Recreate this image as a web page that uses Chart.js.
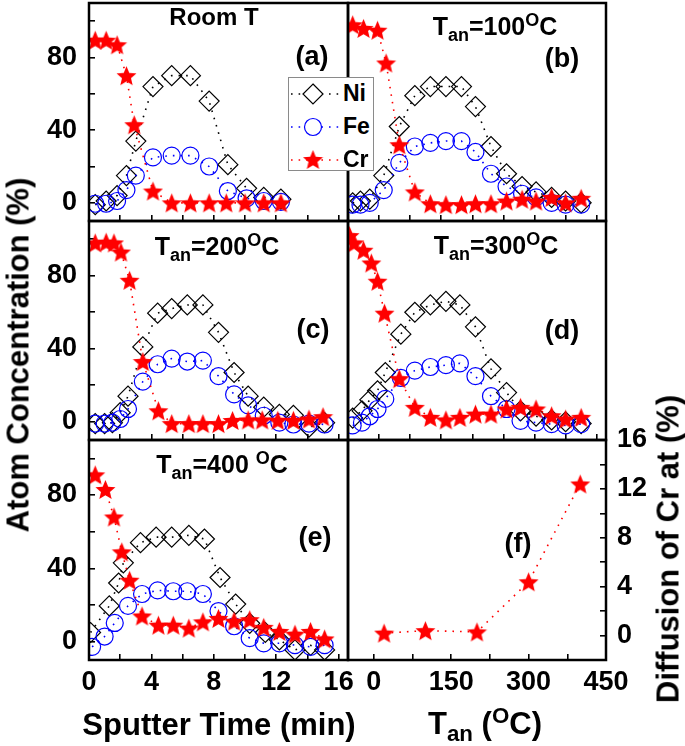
<!DOCTYPE html>
<html>
<head>
<meta charset="utf-8">
<script src="https://cdn.jsdelivr.net/npm/chart.js@4.4.1/dist/chart.umd.min.js"></script>
<style>
  html, body { margin: 0; padding: 0; background: #fff; }
  #page { position: relative; width: 685px; height: 746px; overflow: hidden;
          font-family: "Liberation Sans", Arial, sans-serif; font-weight: bold; color: #000; }
  #page canvas { position: absolute; left: 0; top: 0; }
  .lbl { position: absolute; transform: translate(-50%, -50%); white-space: nowrap; line-height: 1; }
  .lbl sub, .lbl sup { font-size: 0.72em; position: relative; vertical-align: baseline; }
  .lbl sub { top: 0.32em; }
  .lbl sup { top: -0.5em; }
  .rot { transform: translate(-50%, -50%) rotate(-90deg); }
  #legend { position: absolute; left: 288px; top: 77px; width: 84px; height: 92px;
            background: #fff; border: 1px solid #8a8a8a; }
  #legend .row { position: absolute; left: 0; height: 30px; }
  #legend canvas { position: absolute; left: 0; top: 0; }
  #legend span { position: absolute; left: 54px; top: 3px; font-size: 23px; line-height: 1; }
</style>
</head>
<body>
<div id="page"></div>
<script>
// ---------- data ----------
// (a) room temperature
const timeA   = [0.4, 1.1, 1.8, 2.4, 3.0, 4.1, 5.3, 6.5, 7.7, 8.9, 10.1, 11.2, 12.3];
const niA     = [-1, 1, 4, 15, 34, 64, 70, 70, 56, 21, 8, 3, 2];
const feA     = [-0.5, -0.5, 1, 7, 15, 25, 26, 26, 20, 6.5, 2.5, 1, 0.5];
const crTimeA = [0.4, 1.1, 1.8, 2.4, 2.9, 4.1, 5.3, 6.5, 7.7, 8.8, 10.0, 11.2, 12.3];
const crA     = [89.5, 89.5, 87, 70, 43, 6.5, 0, 0, 0, 0, 0, 0, 0];

// (b) 100 C
const timeB   = [0.3, 0.8, 1.4, 2.3, 3.3, 4.3, 5.3, 6.3, 7.3, 8.2, 9.2, 10.2, 11.2, 12.1, 13.1, 14.0, 15.0];
const niB     = [0, 1, 2, 15, 42, 59, 64, 64, 64, 53, 31, 16, 9, 6, 3, 1, 0];
const feB     = [-1, -1, 0, 7, 22, 31, 33, 34, 34, 28, 16, 9, 5, 3, 0, -1, -1];
const crTimeB = [0.3, 1.0, 1.9, 2.45, 3.3, 4.3, 5.3, 6.3, 7.3, 8.2, 9.2, 10.2, 11.2, 12.1, 13.1, 14.0, 15.0];
const crB     = [98, 96, 95, 77, 32, 6, -0.5, -1, -1, -0.5, -0.5, 1, 2, 1, 3, 0, 2.5];

// (c) 200 C
const timeC   = [0.4, 1.0, 1.5, 2.0, 2.5, 3.45, 4.4, 5.3, 6.3, 7.3, 8.3, 9.3, 10.2, 11.2, 12.2, 13.1, 14.1, 15.1];
const niC     = [-1, -1, -0.5, 5, 14, 41, 59.5, 62, 64, 64, 49, 27, 14, 8, 4, 3.5, -3, -0.5];
const feC     = [-1, -1, -0.5, 1.5, 7, 22, 31.5, 34.6, 33, 33.5, 25, 15, 9, 3.3, -0.5, -1.5, -1, -1.5];
const crTimeC = [0.4, 1.1, 1.6, 2.05, 2.6, 3.45, 4.45, 5.3, 6.4, 7.3, 8.3, 9.2, 10.2, 11.1, 12.1, 13.1, 14.1, 15.0];
const crC     = [98, 98.4, 98, 93, 77.5, 33, 6, -1, -1, -1, -1, 0.7, 1, 1, 0.8, 0.8, 1.5, 2.8];

// (d) 300 C
const timeD   = [0.3, 0.9, 1.4, 1.9, 2.4, 3.4, 4.3, 5.3, 6.3, 7.2, 8.2, 9.2, 10.2, 11.1, 12.1, 13.1, 14.0, 15.0];
const niD     = [2, 6, 12, 17, 27, 48, 60, 64, 66, 64, 52, 29, 16, 6, 3, 1, 0, -1];
const feD     = [-2, -0.5, 3, 7, 12.5, 24, 28, 30, 31, 32, 25, 14, 7, 0.5, -0.5, -1.3, -2, -1.3];
const crTimeD = [0.1, 0.4, 1.0, 1.5, 1.9, 2.35, 3.3, 4.3, 5.3, 6.3, 7.2, 8.2, 9.2, 10.2, 11.1, 12.1, 13.1, 14.0, 15.0];
const crD     = [102, 98, 94, 87, 77, 59.5, 23.6, 7.9, 2.4, 1, 2.4, 4.2, 4.2, 7, 7.9, 7, 3.3, 1.5, 2.4];

// (e) 400 C
const niTimeE = [0.1, 1.3, 1.9, 2.2, 3.3, 4.3, 5.3, 6.4, 7.4, 8.4, 9.4, 10.3, 11.3, 12.2, 13.2, 14.2, 15.1];
const niE     = [5, 19.5, 32, 43, 54, 57, 57, 58, 56, 35, 20.5, 10, 5, 1, -4.5, -2, -4.5];
const feTimeE = [0.2, 1.0, 1.65, 2.5, 3.4, 4.4, 5.4, 6.3, 7.3, 8.3, 9.3, 10.3, 11.2, 12.2, 13.2, 14.2, 15.1];
const feE     = [-2.8, 2.8, 10.2, 19.5, 26, 28, 27.5, 27.5, 26, 16.7, 8.4, 1.9, -0.9, -0.9, -1.9, -2.8, -1.9];
const crTimeE = [0.4, 1.05, 1.6, 2.1, 2.6, 3.4, 4.45, 5.4, 6.4, 7.3, 8.3, 9.3, 10.3, 11.2, 12.2, 13.2, 14.2, 15.1];
const crE     = [91, 83, 68, 49, 33.5, 14, 9, 9, 7.4, 10.8, 12.7, 11.2, 12, 7.8, 5.6, 4.1, 5.6, 1.5];

// (f) Cr diffusion vs annealing temperature
const annealTemp = [20, 100, 200, 300, 400];
const crDiffusion = [0.2, 0.4, 0.3, 4.4, 12.4];

// axis ticks
const timeTicks = [0, 2, 4, 6, 8, 10, 12, 14, 16];
const tempTicks = [0, 75, 150, 225, 300, 375, 450];
const concTicks = [0, 20, 40, 60, 80, 100];
const diffTicks = [0, 2, 4, 6, 8, 10, 12, 14, 16];

// ---------- layout ----------
const W = 685, H = 746;
const COLS = [[89, 348], [348, 606]];
const ROWS = [[3, 221], [221, 440], [440, 660]];
const RED = '#ff0000', BLUE = '#0000ff', BLACK = '#000000';
const tickFont = { size: 27, weight: 'bold' };

Chart.defaults.font.family = '"Liberation Sans", Arial, sans-serif';
Chart.defaults.font.weight = 'bold';
Chart.defaults.color = '#000';

const page = document.getElementById('page');

function makeStar(size, color) {
  const c = document.createElement('canvas');
  c.width = c.height = size;
  const g = c.getContext('2d');
  const R = size / 2, r = R * 0.45;
  g.beginPath();
  for (let i = 0; i < 10; i++) {
    const rad = i % 2 ? r : R;
    const a = -Math.PI / 2 + i * Math.PI / 5;
    g.lineTo(R + rad * Math.cos(a), R + 1 + rad * Math.sin(a));
  }
  g.closePath();
  g.fillStyle = color;
  g.fill();
  return c;
}
const starImg = makeStar(21, RED);

function pts(xs, ys) {
  return xs.map((x, i) => ({ x: x, y: ys[i] }));
}

function series(label, xs, ys, color, style, radius, order) {
  return {
    label: label,
    data: pts(xs, ys),
    order: order,
    showLine: true,
    borderColor: color,
    borderWidth: 1.6,
    borderDash: [1.6, 6],
    tension: 0,
    pointStyle: style,
    pointRadius: radius,
    pointBorderColor: color,
    pointBackgroundColor: 'rgba(0,0,0,0)',
    pointBorderWidth: 1.2
  };
}

function elements(niT, ni, feT, fe, crT, cr) {
  return [
    series('Ni', niT, ni, BLACK, 'rectRot', 10, 3),
    series('Fe', feT, fe, BLUE, 'circle', 8.5, 2),
    series('Cr', crT, cr, RED, starImg, 9, 1)
  ];
}

// axis box sizes (room for tick labels), chart area stays at COLS/ROWS
const LEFT_AXIS = 85, BOTTOM_AXIS = 60, RIGHT_AXIS = 70;

function axis(opts) {
  const step = opts.step;
  const size = opts.labels ? opts.size : 0;
  return {
    type: 'linear',
    position: opts.position,
    min: opts.min,
    max: opts.max,
    afterBuildTicks: s => { s.ticks = opts.ticks.map(v => ({ value: v })); },
    afterFit: s => {
      if (s.isHorizontal()) s.height = size; else s.width = size;
      s.paddingLeft = s.paddingRight = s.paddingTop = s.paddingBottom = 0;
    },
    border: { display: false },
    grid: { drawOnChartArea: false, drawTicks: opts.marks, tickLength: -6, color: BLACK, lineWidth: 1.6 },
    ticks: {
      display: !!opts.labels,
      autoSkip: false,
      maxRotation: 0,
      padding: opts.padding || 0,
      color: BLACK,
      font: tickFont,
      callback: v => (v % step === 0 ? String(v) : '')
    }
  };
}

const framePlugin = {
  id: 'frame',
  afterDraw(chart) {
    const a = chart.chartArea, ctx = chart.ctx;
    ctx.save();
    ctx.strokeStyle = BLACK;
    ctx.lineWidth = 2.5;
    ctx.strokeRect(a.left, a.top, a.right - a.left, a.bottom - a.top);
    ctx.restore();
  }
};

function panel(col, row, datasets, xScale, yScale, sizes) {
  const cv = document.createElement('canvas');
  cv.width = W;
  cv.height = H;
  page.appendChild(cv);
  const [x0, x1] = COLS[col], [y0, y1] = ROWS[row];
  const pad = {
    left: x0 - (sizes.left || 0),
    top: y0,
    right: W - x1 - (sizes.right || 0),
    bottom: H - y1 - (sizes.bottom || 0)
  };
  return new Chart(cv, {
    type: 'scatter',
    data: { datasets: datasets },
    options: {
      responsive: false,
      animation: false,
      layout: { autoPadding: false, padding: pad },
      plugins: { legend: { display: false }, tooltip: { enabled: false } },
      scales: { x: xScale, y: yScale }
    },
    plugins: [framePlugin]
  });
}

const timeAxis = labels => axis({ position: 'bottom', min: 0, max: 16.6, ticks: timeTicks, step: 4, marks: true,
  labels: labels, padding: 12, size: BOTTOM_AXIS });
const concAxisLeft = () => axis({ position: 'left', min: -10, max: 110, ticks: concTicks, step: 40, marks: true,
  labels: true, padding: 18, size: LEFT_AXIS });
const concAxisInner = () => axis({ position: 'left', min: -10, max: 110, ticks: concTicks, step: 40, marks: false,
  labels: false });

panel(0, 0, elements(timeA, niA, timeA, feA, crTimeA, crA), timeAxis(false), concAxisLeft(), { left: LEFT_AXIS });
panel(1, 0, elements(timeB, niB, timeB, feB, crTimeB, crB), timeAxis(false), concAxisInner(), {});
panel(0, 1, elements(timeC, niC, timeC, feC, crTimeC, crC), timeAxis(false), concAxisLeft(), { left: LEFT_AXIS });
panel(1, 1, elements(timeD, niD, timeD, feD, crTimeD, crD), timeAxis(false), concAxisInner(), {});
panel(0, 2, elements(niTimeE, niE, feTimeE, feE, crTimeE, crE), timeAxis(true), concAxisLeft(),
  { left: LEFT_AXIS, bottom: BOTTOM_AXIS });
panel(1, 2, [series('Cr diffusion', annealTemp, crDiffusion, RED, starImg, 9, 1)],
  axis({ position: 'bottom', min: -50, max: 450, ticks: tempTicks, step: 150, marks: true, labels: true,
    padding: 12, size: BOTTOM_AXIS }),
  axis({ position: 'right', min: -2, max: 16, ticks: diffTicks, step: 4, marks: true, labels: true,
    padding: 17, size: RIGHT_AXIS }),
  { bottom: BOTTOM_AXIS, right: RIGHT_AXIS });

// ---------- text ----------
function label(html, x, y, size, cls) {
  const d = document.createElement('div');
  d.className = 'lbl' + (cls ? ' ' + cls : '');
  d.style.left = x + 'px';
  d.style.top = y + 'px';
  d.style.fontSize = size + 'px';
  d.innerHTML = html;
  page.appendChild(d);
}

label('Room T', 214, 17, 24);
label('(a)', 312, 56, 27);
label('T<sub>an</sub>=100<sup>O</sup>C', 495, 26, 25);
label('(b)', 562, 58, 27);
label('T<sub>an</sub>=200<sup>O</sup>C', 217, 246, 25);
label('(c)', 313, 329, 27);
label('T<sub>an</sub>=300<sup>O</sup>C', 496, 245, 25);
label('(d)', 562, 330, 27);
label('T<sub>an</sub>=400 <sup>O</sup>C', 222, 464, 25);
label('(e)', 315, 537, 27);
label('(f)', 518, 543, 27);
label('Sputter Time (min)', 219, 724, 31);
label('T<sub>an</sub> (<sup>O</sup>C)', 485, 723, 31);
label('Atom Concentration (%)', 18, 355, 31, 'rot');
label('Diffusion of Cr at (%)', 668, 549, 31, 'rot');

// ---------- legend ----------
const legend = document.createElement('div');
legend.id = 'legend';
page.appendChild(legend);
[['Ni', BLACK, 'diamond'], ['Fe', BLUE, 'circle'], ['Cr', RED, 'star']].forEach((item, i) => {
  const row = document.createElement('div');
  row.className = 'row';
  row.style.top = (1 + i * 33) + 'px';
  const c = document.createElement('canvas');
  c.width = 52; c.height = 30;
  const g = c.getContext('2d');
  g.strokeStyle = item[1];
  g.lineWidth = 1.6;
  g.setLineDash([1.6, 6]);
  g.beginPath(); g.moveTo(2, 15); g.lineTo(50, 15); g.stroke();
  g.setLineDash([]);
  g.lineWidth = 1.2;
  g.beginPath();
  if (item[2] === 'diamond') {
    g.moveTo(24, 5); g.lineTo(34, 15); g.lineTo(24, 25); g.lineTo(14, 15); g.closePath();
    g.fillStyle = '#fff'; g.fill(); g.stroke();
  } else if (item[2] === 'circle') {
    g.arc(24, 15, 8.5, 0, Math.PI * 2);
    g.fillStyle = '#fff'; g.fill(); g.stroke();
  } else {
    g.drawImage(starImg, 13.5, 4);
  }
  row.appendChild(c);
  const t = document.createElement('span');
  t.textContent = item[0];
  row.appendChild(t);
  legend.appendChild(row);
});
</script>
</body>
</html>
